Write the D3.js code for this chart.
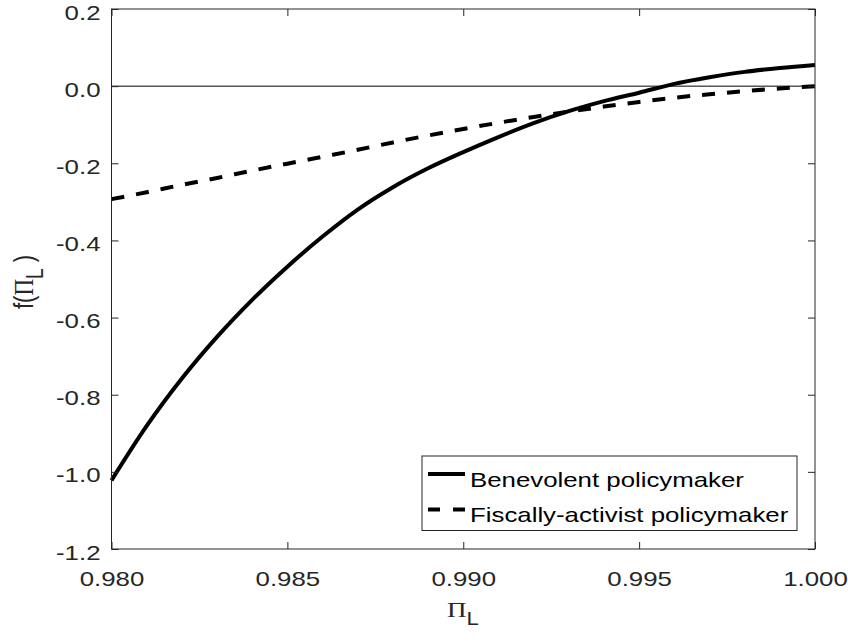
<!DOCTYPE html>
<html>
<head>
<meta charset="utf-8">
<script src="https://cdn.jsdelivr.net/npm/d3@7"></script>
<style>
  body { margin: 0; background: #fff; }
  text { font-family: "Liberation Sans", Arial, Helvetica, sans-serif; }
</style>
</head>
<body>
<div class="chart"></div>
<script>
// values
var piL = [0.980, 0.981, 0.982, 0.983, 0.984, 0.985, 0.986, 0.987, 0.988, 0.989, 0.990,
           0.991, 0.992, 0.993, 0.994, 0.995, 0.996, 0.997, 0.998, 0.999, 1.000];
var benevolent = [-1.022, -0.881, -0.758, -0.650, -0.554, -0.468, -0.390, -0.320, -0.262, -0.213, -0.171,
                  -0.132, -0.096, -0.065, -0.039, -0.017, 0.006, 0.023, 0.037, 0.047, 0.055];
var fiscal = [-0.293, -0.275, -0.256, -0.238, -0.219, -0.201, -0.183, -0.165, -0.146, -0.128, -0.111,
              -0.095, -0.080, -0.066, -0.053, -0.041, -0.030, -0.021, -0.013, -0.006, 0.000];
var seriesNames = ["Benevolent policymaker", "Fiscally-activist policymaker"];
var xTicks = [0.980, 0.985, 0.990, 0.995, 1.000];
var yTicks = [0.2, 0.0, -0.2, -0.4, -0.6, -0.8, -1.0, -1.2];

function init() {
    var w = 848, h = 642;
    var left = 111.5, top = 9, right = 815, bottom = 549;
    var stretch = "scale(1.23,1)";
    var axisColor = "#262626";

    var svg = d3.select(".chart").append("svg")
        .attr("width", w)
        .attr("height", h);

    var xScale = d3.scaleLinear().domain([0.98, 1.0]).range([left, right]);
    var yScale = d3.scaleLinear().domain([-1.2, 0.2]).range([bottom, top]);

    // matlab style hyphen minus
    var loc = d3.formatLocale({decimal: ".", thousands: ",", grouping: [3], currency: ["", ""], minus: "-"});

    // zero line
    svg.append("line")
        .attr("x1", left).attr("x2", right)
        .attr("y1", yScale(0)).attr("y2", yScale(0))
        .attr("stroke", "#000")
        .attr("stroke-width", 1);

    // curves
    var line = d3.line()
        .x(function(d, i) { return xScale(piL[i]); })
        .y(function(d) { return yScale(d); })
        .curve(d3.curveMonotoneX);

    svg.append("path")
        .datum(benevolent)
        .attr("d", line)
        .attr("fill", "none")
        .attr("stroke", "#000")
        .attr("stroke-width", 4);

    svg.append("path")
        .datum(fiscal)
        .attr("d", line)
        .attr("fill", "none")
        .attr("stroke", "#000")
        .attr("stroke-width", 4)
        .attr("stroke-dasharray", "13,12");

    // axes, ticks pointing inside
    var xAxis = d3.axisBottom(xScale).tickValues(xTicks).tickFormat(loc.format(".3f"))
        .tickSizeInner(-7).tickSizeOuter(0);
    var yAxis = d3.axisLeft(yScale).tickValues(yTicks).tickFormat(loc.format(".1f"))
        .tickSizeInner(-7).tickSizeOuter(0);

    var gx = svg.append("g")
        .attr("transform", "translate(0," + bottom + ")")
        .call(xAxis);
    var gy = svg.append("g")
        .attr("transform", "translate(" + left + ",0)")
        .call(yAxis);

    svg.append("g")
        .attr("transform", "translate(0," + top + ")")
        .call(d3.axisTop(xScale).tickValues(xTicks).tickFormat("").tickSizeInner(-7).tickSizeOuter(0));
    svg.append("g")
        .attr("transform", "translate(" + right + ",0)")
        .call(d3.axisRight(yScale).tickValues(yTicks).tickFormat("").tickSizeInner(-7).tickSizeOuter(0));

    svg.selectAll(".domain").remove();
    svg.selectAll(".tick line").attr("stroke", axisColor);

    gx.selectAll(".tick text")
        .attr("y", null).attr("dy", null)
        .attr("transform", "translate(0,37) " + stretch)
        .attr("fill", axisColor)
        .style("font-size", "21px");
    gy.selectAll(".tick text")
        .attr("x", null).attr("dy", null)
        .attr("transform", "translate(-11,10) " + stretch)
        .attr("fill", axisColor)
        .style("font-size", "21px");

    // box
    svg.append("rect")
        .attr("x", left).attr("y", top)
        .attr("width", right - left).attr("height", bottom - top)
        .attr("fill", "none")
        .attr("stroke", axisColor)
        .attr("stroke-width", 1);

    // axis labels
    var xl = svg.append("text")
        .attr("transform", "translate(463,617) " + stretch)
        .attr("text-anchor", "middle")
        .attr("fill", axisColor);
    xl.append("tspan").style("font-family", "'Liberation Serif', serif").style("font-size", "22px").text("Π");
    xl.append("tspan").attr("dy", 8).style("font-size", "18px").text("L");

    var yl = svg.append("text")
        .attr("transform", "translate(33,282) " + stretch + " rotate(-90)")
        .attr("text-anchor", "middle")
        .attr("fill", axisColor)
        .style("font-size", "22px");
    yl.append("tspan").text("f(");
    yl.append("tspan").style("font-family", "'Liberation Serif', serif").style("font-size", "23px").text("Π");
    yl.append("tspan").attr("dy", 8).style("font-size", "19px").text("L");
    yl.append("tspan").attr("dy", -8).text(" )");

    // legend
    var lg = svg.append("g");
    lg.append("rect")
        .attr("x", 422).attr("y", 456)
        .attr("width", 797 - 422).attr("height", 74.5)
        .attr("fill", "#fff")
        .attr("stroke", axisColor)
        .attr("stroke-width", 1);

    var rows = lg.selectAll(".row")
        .data(seriesNames)
        .enter().append("g")
        .attr("class", "row")
        .attr("transform", function(d, i) { return "translate(0," + (i * 35.5) + ")"; });

    rows.append("line")
        .attr("x1", 428).attr("x2", 465)
        .attr("y1", 474).attr("y2", 474)
        .attr("stroke", "#000")
        .attr("stroke-width", 4)
        .attr("stroke-dasharray", function(d, i) { return i === 1 ? "12,13" : null; });

    rows.append("text")
        .attr("transform", "translate(470,486.5) " + stretch)
        .attr("fill", "#000")
        .style("font-size", "21px")
        .text(function(d) { return d; });
}

window.onload = init;
</script>
</body>
</html>
